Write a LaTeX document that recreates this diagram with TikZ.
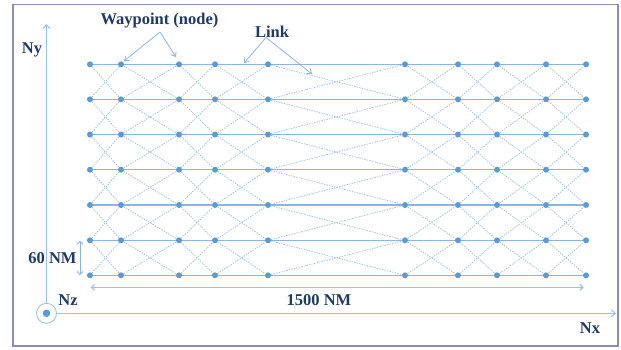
\documentclass[tikz,border=0pt]{standalone}
\usepackage{fontspec}
\setmainfont{Liberation Serif}
\usetikzlibrary{arrows.meta}
\definecolor{dotblue}{RGB}{91,155,213}
\definecolor{lineblue}{RGB}{141,180,226}
\definecolor{dashblue}{RGB}{155,194,230}
\definecolor{txtblue}{RGB}{31,58,100}
\definecolor{framec}{RGB}{140,140,185}
\begin{document}
\begin{tikzpicture}[x=1pt,y=-1pt,
  wpt/.style={circle,fill=dotblue,inner sep=0pt,minimum size=6pt},
  hlink/.style={draw=lineblue,line width=1.1pt},
  dlink/.style={draw=dashblue,line width=0.8pt,dash pattern=on 1.4pt off 1.2pt},
  lbl/.style={font=\bfseries\fontsize{16.5}{18}\selectfont,text=txtblue,inner sep=0pt},
  axis/.style={draw=dashblue,line width=1pt,-{Straight Barb[length=4pt,width=7pt]}},
  callout/.style={draw=lineblue,line width=0.8pt,-{Straight Barb[length=4pt,width=6pt]}},
  dim/.style={draw=lineblue,line width=0.8pt,{Straight Barb[length=3pt,width=6pt]}-{Straight Barb[length=3pt,width=6pt]}},
]
\useasboundingbox (0,0) rectangle (621,349);
\draw[framec,line width=1.3pt] (13,4.5) rectangle (618,346);

% waypoints
\foreach \x [count=\i] in {90,121,179,215,268,405,458,497,546,586}{
  \foreach \y [count=\j] in {64.3,99.3,134.5,169.7,205,240.3,275.3}{
    \node[wpt] (n-\i-\j) at (\x,\y) {};
  }
}
% horizontal links
\foreach \i [evaluate=\i as \ni using int(\i+1)] in {1,...,9}{
  \foreach \j in {1,...,7}{
    \draw[hlink] (n-\i-\j) -- (n-\ni-\j);
  }
}
% diagonal links
\foreach \i [evaluate=\i as \ni using int(\i+1)] in {1,...,9}{
  \foreach \j [evaluate=\j as \nj using int(\j+1)] in {1,...,6}{
    \draw[dlink] (n-\i-\j) -- (n-\ni-\nj);
    \draw[dlink] (n-\i-\nj) -- (n-\ni-\j);
  }
}

% origin and axes
\node[circle,draw=dashblue,line width=0.9pt,minimum size=20pt,inner sep=0pt] (O) at (46.5,313.3) {};
\node[circle,fill=dotblue,inner sep=0pt,minimum size=7.5pt] (Oc) at (46.5,313.3) {};
\coordinate (nytip) at (46.5,24);
\coordinate (nxtip) at (616,313.3);
\draw[axis] (O.north) -- (nytip);
\draw[axis] (O.east) -- (nxtip);
\node[lbl] (ny) at (32,50) {Ny};
\node[lbl] (nx) at (590,328) {Nx};
\node[lbl] (nz) at (68,300.5) {Nz};

% callouts
\node[lbl] (wp) at (159.5,21) {Waypoint (node)};
\coordinate (wps) at (160,32);
\coordinate (wpa) at (124,61);
\coordinate (wpb) at (176,57);
\draw[callout] (wps) -- (wpa);
\draw[callout] (wps) -- (wpb);
\node[lbl] (lk) at (272,32) {Link};
\coordinate (lks) at (266,37.5);
\coordinate (lka) at (244,63);
\coordinate (lkb) at (312,74);
\draw[callout] (lks) -- (lka);
\draw[callout] (lks) -- (lkb);

% dimensions
\coordinate (d60a) at (80,240.7);
\coordinate (d60b) at (80,275);
\draw[dim] (d60a) -- (d60b);
\node[lbl] (l60) at (52.5,258) {60 NM};
\coordinate (d15a) at (90.7,287.3);
\coordinate (d15b) at (583.7,287.3);
\draw[dim,draw=dashblue,line width=1.2pt] (d15a) -- (d15b);
\node[lbl] (l15) at (319,300) {1500 NM};
\end{tikzpicture}
\end{document}
